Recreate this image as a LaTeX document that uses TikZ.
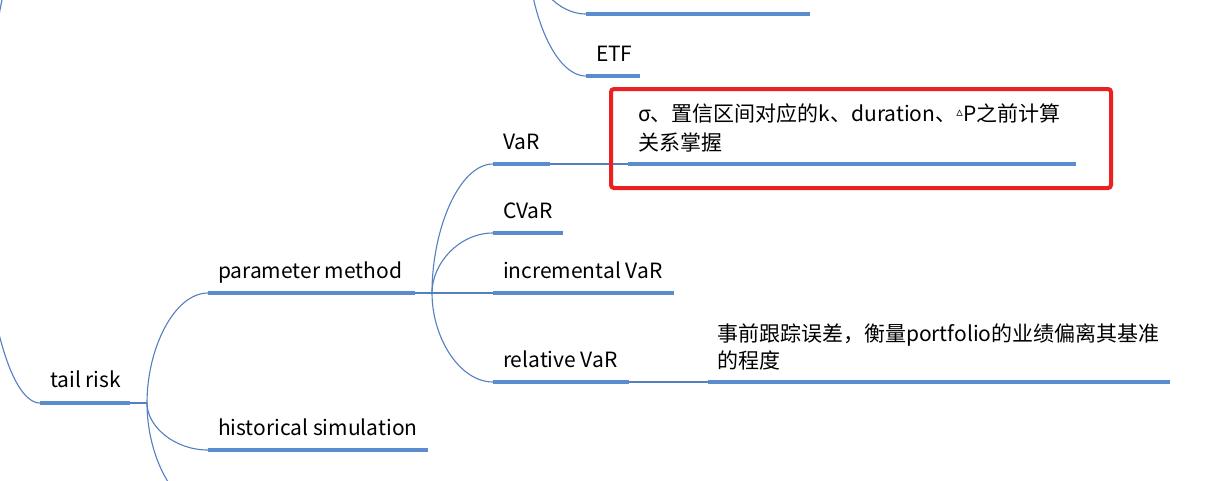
\documentclass[tikz,border=0pt]{standalone}
\usepackage{fontspec}
\setmainfont{Noto Sans CJK SC}
\newfontfamily\djv{DejaVu Sans}
\usetikzlibrary{calc}
\definecolor{barblue}{RGB}{91,140,205}
\definecolor{linkblue}{RGB}{84,128,192}
\definecolor{boxred}{RGB}{236,32,32}
\begin{document}
\begin{tikzpicture}[x=1pt,y=-1pt,
  bar/.style={rectangle,fill=barblue,minimum height=4pt,inner sep=0pt,outer sep=0pt,anchor=west},
  lbl/.style={anchor=base west,inner sep=0pt,outer sep=0pt,font=\fontsize{21}{28}\selectfont},
  conn/.style={draw=linkblue,line width=1.1pt},
  branch/.style={to path={.. controls ($(\tikztostart)!0.5!(\tikztostart|-\tikztotarget)$) and ($(\tikztotarget)!0.55!(\tikztostart|-\tikztotarget)$) .. (\tikztotarget)}},
  hlbox/.style={draw=boxred,line width=4pt,rounded corners=3pt,inner sep=0pt,anchor=north west}
]
\useasboundingbox (0,0) rectangle (1222,480);
\clip (0,0) rectangle (1222,480);
\fill[white] (0,0) rectangle (1222,480);

% fork points and off-picture ends
\coordinate (rootF) at (-16,200);
\coordinate (rootUp) at (40,-80);
\coordinate (topF) at (527,-60);
\coordinate (trF) at (147,403);
\coordinate (pmF) at (432,293);
\coordinate (lowChild) at (208,510);

% bars
\node[bar,minimum width=224pt] (top) at (586,14) {};
\node[bar,minimum width=54pt] (etf) at (586,76) {};
\node[bar,minimum width=57pt] (var) at (493,164) {};
\node[bar,minimum width=448pt] (vardet) at (628,164) {};
\node[bar,minimum width=70pt] (cvar) at (493,233) {};
\node[bar,minimum width=181pt] (incvar) at (493,293) {};
\node[bar,minimum width=207pt] (pm) at (208,293) {};
\node[bar,minimum width=136pt] (relvar) at (493,382) {};
\node[bar,minimum width=462pt] (reldet) at (708,382) {};
\node[bar,minimum width=90pt] (tr) at (40,403) {};
\node[bar,minimum width=220pt] (hs) at (208,450) {};

% labels
\node[lbl] (etfL) at (596,61) {ETF};
\node[lbl] (varL) at (503,149) {VaR};
\node[lbl] (vardetL1) at (638,121) {σ、置信区间对应的k、duration、{\djv\fontsize{13}{13}\selectfont\raisebox{5pt}{▵}}P之前计算};
\node[lbl] (vardetL2) at (638,150) {关系掌握};
\node[lbl] (cvarL) at (503,218) {CVaR};
\node[lbl] (incvarL) at (503,278) {incremental VaR};
\node[lbl] (pmL) at (218,278) {parameter method};
\node[lbl] (relvarL) at (503,367) {relative VaR};
\node[lbl] (reldetL1) at (717,341) {事前跟踪误差，衡量portfolio的业绩偏离其基准};
\node[lbl] (reldetL2) at (717,368) {的程度};
\node[lbl] (trL) at (50,387) {tail risk};
\node[lbl] (hsL) at (218,435) {historical simulation};

% connectors
\draw[conn] (rootF) to[branch] (tr.west);
\draw[conn] (rootF) to[branch] (rootUp);
\draw[conn] (topF) to[branch] (top.west);
\draw[conn] (topF) to[branch] (etf.west);
\draw[conn] (tr.east) -- (trF);
\draw[conn] (trF) to[branch] (pm.west);
\draw[conn] (trF) to[branch] (hs.west);
\draw[conn] (trF) to[branch] (lowChild);
\draw[conn] (pm.east) -- (pmF);
\draw[conn] (pmF) to[branch] (var.west);
\draw[conn] (pmF) to[branch] (cvar.west);
\draw[conn] (pmF) -- (incvar.west);
\draw[conn] (pmF) to[branch] (relvar.west);
\draw[conn] (var.east) -- (vardet.west);
\draw[conn] (relvar.east) -- (reldet.west);

% highlight box
\node[hlbox,minimum width=500pt,minimum height=99pt] (hl) at (609,87) {};
\end{tikzpicture}
\end{document}
